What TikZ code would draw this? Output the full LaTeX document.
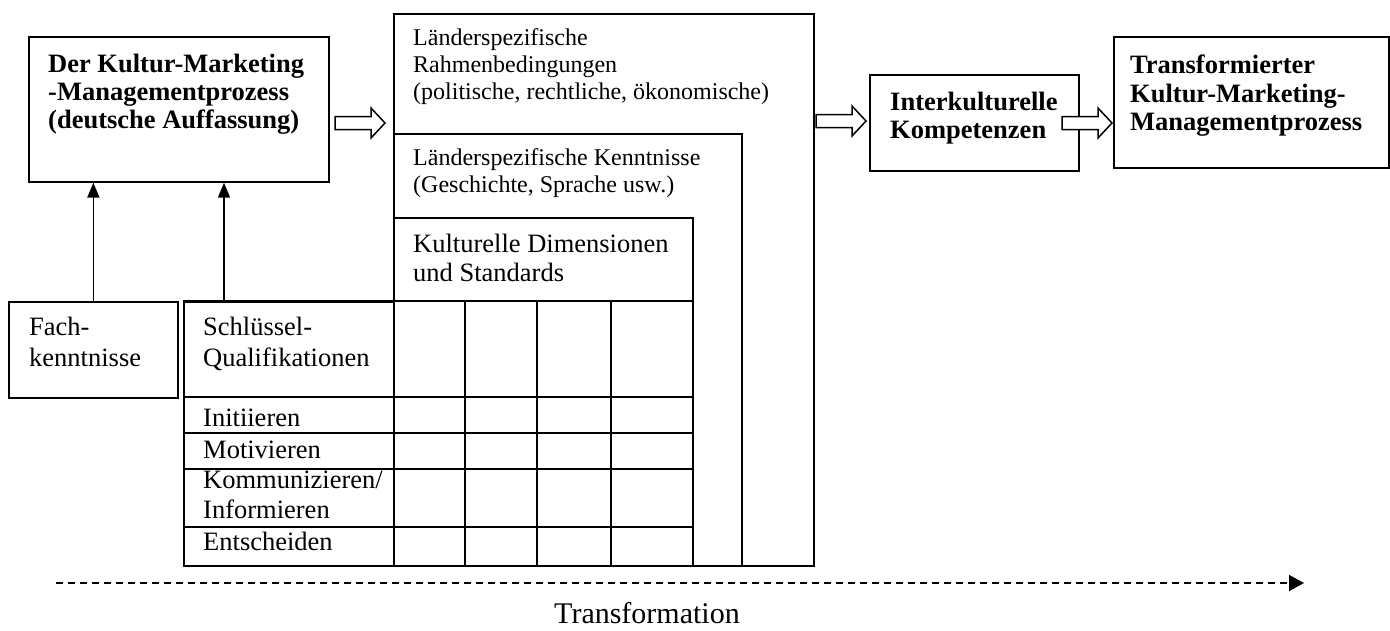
\documentclass[tikz,border=0pt]{standalone}
\usepackage{fontspec}
\setmainfont{Liberation Serif}
\usetikzlibrary{arrows.meta}
\newcommand\hollowarr[3]{%
  \draw[hollow] (#1,#3-6.5) -- (#2-14,#3-6.5) -- (#2-14,#3-15) -- (#2,#3)
    -- (#2-14,#3+15) -- (#2-14,#3+6.5) -- (#1,#3+6.5) -- cycle;}
\begin{document}
\begin{tikzpicture}[x=1pt,y=-1pt,
  box/.style={draw, line width=1.7pt, inner sep=0pt, anchor=north west},
  ln/.style={line width=1.7pt},
  tb/.style={inner sep=0pt, anchor=north west, align=left, font=\fontsize{26.5}{28}\selectfont\bfseries},
  tr/.style={inner sep=0pt, anchor=north west, align=left, font=\fontsize{26.5}{30.5}\selectfont},
  ts/.style={inner sep=0pt, anchor=north west, align=left, font=\fontsize{24}{27}\selectfont},
  trow/.style={inner sep=0pt, anchor=base west, font=\fontsize{26.5}{30}\selectfont},
  uparrow/.style={line width=1.6pt, -{Triangle[length=15pt,width=12pt]}},
  hollow/.style={draw, line width=1.5pt, fill=white, line join=miter}
]
\useasboundingbox (0,0) rectangle (1390,630);

% boxes
\node[box, minimum width=420pt, minimum height=552pt] (outer) at (393,13) {};
\node[box, minimum width=348pt, minimum height=432pt] (kenn) at (393,133) {};
\node[box, minimum width=299pt, minimum height=348pt] (kult) at (393,217) {};
\node[box, minimum width=210pt, minimum height=264pt] (sq) at (183,301) {};
\node[box, minimum width=169pt, minimum height=96pt] (fach) at (8,301) {};
\node[box, minimum width=300pt, minimum height=145pt] (km) at (28,36) {};
\node[box, minimum width=209pt, minimum height=96pt] (ik) at (869,74) {};
\node[box, minimum width=275pt, minimum height=131pt] (tk) at (1113,36) {};

% grid
\draw[ln] (183,301) -- (692,301);
\foreach \y in {397,433,469,527} \draw[ln] (183,\y) -- (692,\y);
\foreach \x in {465,537,611} \draw[ln] (\x,301) -- (\x,565);

% up arrows
\draw[uparrow] (fach.north) -- (fach.north |- km.south);
\coordinate (sqa) at (224,301);
\draw[uparrow] (sqa) -- (sqa |- km.south);

% hollow arrows
\hollowarr{335}{385}{123}
\hollowarr{816}{866}{121}
\hollowarr{1062}{1112}{123}

% transformation arrow
\coordinate (ts) at (56,583);
\coordinate (te) at (1304,583);
\draw[line width=1.6pt, dash pattern=on 7pt off 5pt, -{Triangle[length=15pt,width=16pt]}] (ts) -- (te);

% texts
\node[tb] (km-t) at (48,54.4) {Der Kultur-Marketing\\-Managementprozess\\(deutsche Auffassung)};
\node[ts] (outer-t) at (413,28.6) {Länderspezifische\\Rahmenbedingungen\\(politische, rechtliche, ökonomische)};
\node[ts] (kenn-t) at (413,148.6) {Länderspezifische Kenntnisse\\(Geschichte, Sprache usw.)};
\node[tr, font=\fontsize{26.5}{28.5}\selectfont] (kult-t) at (413,234) {Kulturelle Dimensionen\\und Standards};
\node[tr] (fach-t) at (29,317.2) {Fach-\\kenntnisse};
\node[tr] (sq-t) at (203,317.2) {Schlüssel-\\Qualifikationen};
\node[trow] (r1) at (203,426.7) {Initiieren};
\node[trow] (r2) at (203,458.3) {Motivieren};
\node[trow] (r3) at (203,488.3) {Kommunizieren/};
\node[trow] (r4) at (203,518.3) {Informieren};
\node[trow] (r5) at (203,550) {Entscheiden};
\node[tb] (ik-t) at (890,92.4) {Interkulturelle\\Kompetenzen};
\node[tb, font=\fontsize{26.5}{28.5}\selectfont\bfseries] (tk-t) at (1130,55) {Transformierter\\Kultur-Marketing-\\Managementprozess};
\node[anchor=base, inner sep=0pt, font=\fontsize{30}{34}\selectfont] (trf) at (647,623) {Transformation};
\end{tikzpicture}
\end{document}
